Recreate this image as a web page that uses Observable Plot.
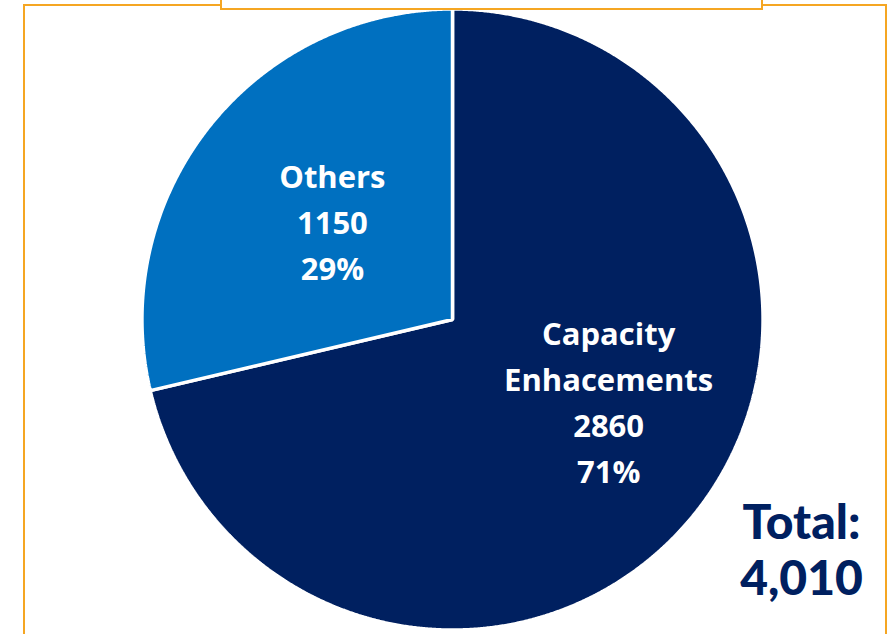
<!DOCTYPE html>
<html>
<head>
<meta charset="utf-8">
<script src="https://cdn.jsdelivr.net/npm/d3@7"></script>
<script src="https://cdn.jsdelivr.net/npm/@observablehq/plot@0.6"></script>
<style>
  html, body { margin: 0; padding: 0; background: #fff; }
  #wrap { position: relative; width: 891px; height: 634px; overflow: hidden; }
  #wrap svg { position: absolute; left: 0; top: 0; }
  .o { position: absolute; background: #F5A623; }
</style>
</head>
<body>
<div id="wrap">
  <div class="o" style="left:23px; top:4px; width:2px; height:640px;"></div>
  <div class="o" style="left:23px; top:4px; width:199px; height:2px;"></div>
  <div class="o" style="left:220px; top:0px; width:2px; height:10px;"></div>
  <div class="o" style="left:220px; top:8px; width:543px; height:2px;"></div>
  <div class="o" style="left:761px; top:0px; width:2px; height:10px;"></div>
  <div class="o" style="left:761px; top:4px; width:126px; height:2px;"></div>
  <div class="o" style="left:885px; top:4px; width:2px; height:640px;"></div>
</div>
<script>
// ---- data ----
const categories = ["Capacity\nEnhacements", "Others"];
const values = [2860, 1150];
const colors = ["#002060", "#0070C0"];
const totalLabelText = "Total:";

// ---- geometry from data ----
const total = d3.sum(values);
const arcs = d3.pie().sort(null)(values);
const step = Math.PI / 720;
const R = 1.005;

function slicePolygon(a) {
  const pts = [{x: 0, y: 0}];
  const n = Math.max(2, Math.ceil((a.endAngle - a.startAngle) / step));
  for (let i = 0; i <= n; i++) {
    const t = a.startAngle + (a.endAngle - a.startAngle) * i / n;
    pts.push({x: R * Math.sin(t), y: R * Math.cos(t)});
  }
  return pts;
}

const labels = arcs.map((a, i) => {
  const mid = (a.startAngle + a.endAngle) / 2;
  return {
    x: 0.5 * Math.sin(mid),
    y: 0.5 * Math.cos(mid),
    text: `${categories[i]}\n${values[i]}\n${Math.round(values[i] / total * 100)}%`,
    i
  };
});

const sliceMarks = arcs.map((a, i) =>
  Plot.line(slicePolygon(a), {
    x: "x", y: "y",
    fill: colors[i],
    stroke: "white",
    strokeWidth: 3.5,
    strokeLinejoin: "miter",
    curve: "linear-closed"
  })
);

const labelOffsets = [{dx: 35, dy: -16}, {dx: 1, dy: -4}];

const textMarks = labels.map(l =>
  Plot.text([l], {
    x: "x", y: "y", text: "text",
    fill: "white",
    fontSize: 31,
    fontWeight: "bold",
    fontFamily: "'Open Sans', sans-serif",
    lineHeight: 1.48,
    lineAnchor: "middle",
    textAnchor: "middle",
    dx: labelOffsets[l.i].dx,
    dy: labelOffsets[l.i].dy
  })
);

const totalText = `${totalLabelText}\n${d3.format(",")(total)}`;

const chart = Plot.plot({
  width: 891,
  height: 634,
  margin: 0,
  style: {background: "transparent", overflow: "visible"},
  x: {domain: [-452 / 309, (891 - 452) / 309], axis: null},
  y: {domain: [(319 - 634) / 309, 319 / 309], axis: null},
  marks: [
    ...sliceMarks,
    ...textMarks,
    Plot.text([totalText], {
      frameAnchor: "top-left",
      text: d => d,
      dx: 801,
      dy: 498,
      fill: "#002060",
      fontSize: 48,
      fontWeight: 900,
      fontFamily: "Lato, sans-serif",
      lineHeight: 1.18,
      lineAnchor: "top",
      textAnchor: "middle"
    })
  ]
});

document.getElementById("wrap").prepend(chart);
</script>
</body>
</html>
